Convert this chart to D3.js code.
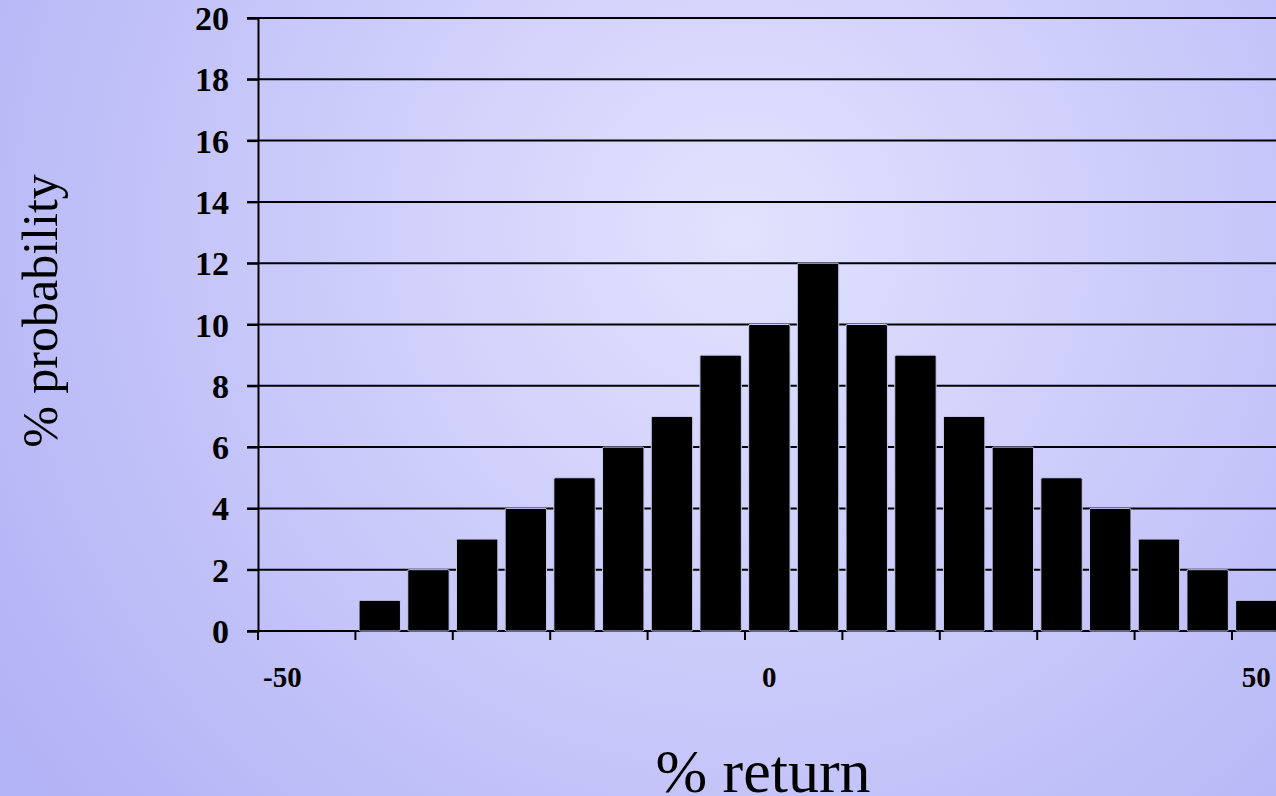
<!DOCTYPE html>
<html>
  <head>
    <meta charset="UTF-8">
    <title>% return distribution</title>
    <style>
      body { margin: 0; overflow: hidden; }
      svg text { font-family: "Liberation Serif", "Times New Roman", serif; fill: #000; }
    </style>
  </head>
  <body>
    <script src="https://cdn.jsdelivr.net/npm/d3@7"></script>
    <svg width="1276" height="796" id="chart"></svg>
    <script>
      // data
      var returns = [-50, -45, -40, -35, -30, -25, -20, -15, -10, -5, 0, 5, 10, 15, 20, 25, 30, 35, 40, 45, 50];
      var probability = [0, 0, 1, 2, 3, 4, 5, 6, 7, 9, 10, 12, 10, 9, 7, 6, 5, 4, 3, 2, 1];
      var yTicks = [0, 2, 4, 6, 8, 10, 12, 14, 16, 18, 20];
      var xTickLabels = [-50, 0, 50];

      var svg = d3.select("#chart"),
          width = +svg.attr("width"),
          height = +svg.attr("height");

      // background gradient
      var defs = svg.append("defs");
      var grad = defs.append("radialGradient")
          .attr("id", "bg")
          .attr("gradientUnits", "userSpaceOnUse")
          .attr("cx", 740).attr("cy", 230).attr("r", 900);
      grad.append("stop").attr("offset", "0%").attr("stop-color", "#e2e2fe");
      grad.append("stop").attr("offset", "100%").attr("stop-color", "#b2b2f6");
      svg.append("rect").attr("width", width).attr("height", height).attr("fill", "url(#bg)");

      var plotLeft = 258, plotTop = 18, plotBottom = 631, step = 48.7, pad = 0.15;

      var x = d3.scaleBand()
          .domain(returns)
          .range([plotLeft, plotLeft + step * returns.length])
          .paddingInner(pad)
          .paddingOuter(pad / 2);

      var y = d3.scaleLinear().domain([0, 20]).range([plotBottom, plotTop]);

      // gridlines
      svg.append("g").selectAll("line")
        .data(yTicks)
        .enter().append("line")
        .attr("x1", plotLeft - 11)
        .attr("x2", width)
        .attr("y1", function(d) { return y(d); })
        .attr("y2", function(d) { return y(d); })
        .attr("stroke", "#000")
        .attr("stroke-width", 2);

      // bars
      svg.append("g").selectAll("rect")
        .data(probability.map(function(v, i) { return {r: returns[i], v: v}; }).filter(function(d) { return d.v > 0; }))
        .enter().append("rect")
        .attr("x", function(d) { return x(d.r); })
        .attr("y", function(d) { return y(d.v); })
        .attr("width", x.bandwidth())
        .attr("height", function(d) { return y(0) - y(d.v); })
        .attr("rx", 1.5)
        .attr("fill", "#000")
        .attr("stroke", "#c8c8f4")
        .attr("stroke-width", 1);

      // y axis
      var yAxis = svg.append("g")
        .attr("transform", "translate(" + plotLeft + ",0)")
        .call(d3.axisLeft(y).tickValues(yTicks).tickSize(11).tickPadding(18));
      yAxis.select(".domain").attr("stroke-width", 2);
      yAxis.selectAll(".tick line").attr("stroke-width", 2);
      yAxis.selectAll(".tick text")
        .attr("font-size", 34)
        .attr("font-weight", "bold")
        .attr("font-family", "Liberation Serif, Times New Roman, serif")
        .attr("dy", "0.34em");

      // x axis ticks on every second category boundary
      var slotStart = function(r) { return x(r) - x.step() * pad / 2; };
      svg.append("g").selectAll("line")
        .data(returns.filter(function(d, i) { return i % 2 === 0; }))
        .enter().append("line")
        .attr("x1", slotStart).attr("x2", slotStart)
        .attr("y1", plotBottom).attr("y2", plotBottom + 9)
        .attr("stroke", "#000")
        .attr("stroke-width", 2);

      svg.append("g").selectAll("text")
        .data(xTickLabels)
        .enter().append("text")
        .attr("x", function(d) { return x(d) + x.bandwidth() / 2; })
        .attr("y", 687)
        .attr("text-anchor", "middle")
        .attr("font-size", 29)
        .attr("font-weight", "bold")
        .text(function(d) { return d; });

      // axis titles
      svg.append("text")
        .attr("transform", "translate(57,311) rotate(-90)")
        .attr("text-anchor", "middle")
        .attr("font-size", 50)
        .text("% probability");

      svg.append("text")
        .attr("x", 763)
        .attr("y", 792)
        .attr("text-anchor", "middle")
        .attr("font-size", 62)
        .text("% return");
    </script>
  </body>
</html>
